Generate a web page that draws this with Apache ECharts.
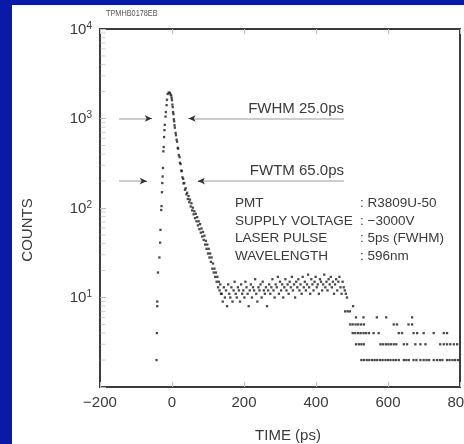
<!DOCTYPE html>
<html>
<head>
<meta charset="utf-8">
<script src="https://cdn.jsdelivr.net/npm/echarts@6.0.0/dist/echarts.min.js"></script>
<style>
  html, body { margin: 0; padding: 0; background: #fff; }
  #chart { width: 464px; height: 444px; }
</style>
</head>
<body>
<div id="chart"></div>
<script>
// time (ps), counts
const riseData = [
  [-43, 2], [-42, 4], [-41, 8], [-41, 9], [-39, 19], [-35, 28], [-33, 41], [-32, 57],
  [-30, 95], [-29, 105], [-28, 150], [-27, 190], [-26, 225], [-25, 280], [-24, 430],
  [-23, 480], [-22, 620], [-21, 740], [-20, 850], [-18, 1050], [-17, 1180], [-15, 1410],
  [-14, 1620], [-12, 1880], [-9, 1950], [-6, 1930], [-4, 1850]
];
const decayData = [
  [-2, 1800], [-1, 1690], [0, 1600], [1, 1430], [2, 1340], [3, 1180], [4, 1120], [5, 980],
  [6, 930], [7, 840], [8, 790], [10, 690], [11, 650], [13, 580], [14, 550], [16, 470],
  [17, 460], [19, 390], [21, 370], [22, 320], [24, 310], [26, 262], [27, 258], [29, 220],
  [31, 212], [32, 188], [34, 190], [36, 160], [38, 166], [40, 142], [42, 148], [44, 126],
  [46, 136], [48, 116], [50, 124], [52, 104], [54, 113], [56, 94], [58, 101], [60, 85],
  [62, 92], [64, 77], [66, 86], [68, 71], [70, 79], [72, 64], [74, 71], [76, 58],
  [78, 66], [80, 53], [82, 59], [84, 48], [86, 54], [88, 44], [90, 49], [92, 39],
  [94, 43], [96, 35], [98, 39], [100, 31], [102, 35], [104, 28], [106, 31], [108, 25],
  [110, 28], [112, 21], [114, 24], [116, 19], [118, 21], [120, 17], [122, 19], [124, 15],
  [126, 17], [128, 13], [130, 15], [132, 12], [134, 14], [136, 11]
];
const backgroundData = [
  [138, 11], [141, 9], [144, 13], [147, 10], [150, 12], [153, 8], [156, 14], [159, 11],
  [162, 10], [165, 13], [168, 9], [171, 12], [174, 15], [177, 11], [180, 10], [183, 13],
  [186, 12], [189, 9], [192, 14], [195, 11], [198, 12], [201, 10], [204, 15], [207, 13],
  [210, 11], [213, 8], [216, 12], [219, 14], [222, 10], [225, 13], [228, 12], [231, 16],
  [234, 11], [237, 9], [240, 13], [243, 12], [246, 14], [249, 10], [252, 15], [255, 12],
  [258, 11], [261, 13], [264, 8], [267, 12], [270, 14], [273, 11], [276, 13], [279, 16],
  [282, 12], [285, 10], [288, 14], [291, 13], [294, 17], [297, 11], [300, 15], [303, 12],
  [306, 14], [309, 10], [312, 13], [315, 16], [318, 12], [321, 14], [324, 11], [327, 15],
  [330, 13], [333, 17], [336, 12], [339, 14], [342, 10], [345, 15], [348, 13], [351, 16],
  [354, 12], [357, 14], [360, 11], [363, 17], [366, 13], [369, 15], [372, 12], [375, 14],
  [378, 18], [381, 13], [384, 11], [387, 16], [390, 14], [393, 12], [396, 15], [399, 17],
  [402, 13], [405, 14], [408, 11], [411, 16], [414, 15], [417, 12], [420, 14], [423, 18],
  [426, 13], [429, 15], [432, 12], [435, 16], [438, 14], [441, 17], [444, 13], [447, 15],
  [450, 11], [453, 14], [456, 16], [459, 12], [462, 15], [465, 17], [468, 13], [471, 11],
  [474, 15], [477, 13], [480, 12], [483, 11], [486, 10]
];
const tailData = [
  [481, 7], [488, 7], [494, 7], [503, 8],
  [511, 6], [532, 6], [569, 6], [595, 6], [667, 6],
  [495, 5], [502, 5], [510, 5], [517, 5], [525, 5], [533, 5], [616, 5], [625, 5], [657, 5], [667, 5],
  [502, 4], [509, 4], [517, 4], [524, 4], [532, 4], [539, 4], [547, 4], [560, 4], [574, 4],
  [630, 4], [639, 4], [671, 4], [681, 4], [699, 4], [727, 4], [755, 4], [764, 4],
  [511, 3], [519, 3], [526, 3], [533, 3], [579, 3], [586, 3], [594, 3], [601, 3], [608, 3],
  [616, 3], [623, 3], [644, 3], [653, 3], [676, 3], [690, 3], [704, 3], [745, 3], [755, 3],
  [764, 3], [773, 3], [783, 3], [792, 3],
  [526, 2], [533, 2], [541, 2], [548, 2], [556, 2], [563, 2], [570, 2], [578, 2], [585, 2],
  [593, 2], [600, 2], [607, 2], [615, 2], [622, 2], [630, 2], [644, 2], [651, 2], [658, 2],
  [671, 2], [679, 2], [690, 2], [699, 2], [707, 2], [714, 2], [727, 2], [736, 2], [744, 2],
  [751, 2], [764, 2], [771, 2], [779, 2], [786, 2], [794, 2]
];

const xTicks = [-200, 0, 200, 400, 600, 800];
const minorMultipliers = [2, 3, 4, 5, 6, 7, 8, 9];
const decades = [1, 10, 100, 1000];

// FWHM / FWTM markers
const fwhmLevel = 1000;
const fwtmLevel = 200;
const fwhmTips = [-56, 46];
const fwtmTips = [-70, 72];
const markerStart = -147;
const markerEnd = 478;

const infoLabels = ['PMT', 'SUPPLY VOLTAGE', 'LASER PULSE', 'WAVELENGTH'];
const infoValues = [': R3809U-50', ': \u22123000V', ': 5ps (FWHM)', ': 596nm'];

const FONT = '"Liberation Sans", Arial, Helvetica, sans-serif';
const TEXT_COLOR = '#3a3a3a';

const minorTickData = [];
decades.forEach(d => minorMultipliers.forEach(m => minorTickData.push([xTicks[0], m * d])));

function markerLines(level, tips) {
  return [
    [{ coord: [markerStart, level] }, { coord: [tips[0] - 6, level] }],
    [{ coord: [markerEnd, level] }, { coord: [tips[1] + 6, level] }],
    [{ coord: [tips[0] - 10, level], symbol: 'none', lineStyle: { color: '#333', width: 1 } },
     { coord: [tips[0], level], symbol: 'arrow', lineStyle: { color: '#333', width: 1 } }],
    [{ coord: [tips[1] + 10, level], symbol: 'none', lineStyle: { color: '#333', width: 1 } },
     { coord: [tips[1], level], symbol: 'arrow', lineStyle: { color: '#333', width: 1 } }]
  ];
}

const chart = echarts.init(document.getElementById('chart'));

const graphics = [
  { type: 'rect', shape: { x: 0, y: 0, width: 12, height: 444 }, style: { fill: '#0a1aa8' }, z: 100 },
  { type: 'rect', shape: { x: 0, y: 0, width: 464, height: 5 }, style: { fill: '#0a1aa8' }, z: 100 },
  { type: 'text', x: 106, y: 14, scaleX: 0.86, style: { text: 'TPMHB0178EB', font: '8.5px ' + FONT, fill: '#555', verticalAlign: 'middle' } },
  { type: 'text', x: 28, y: 230, rotation: Math.PI / 2, style: { text: 'COUNTS', font: '15px ' + FONT, fill: TEXT_COLOR, align: 'center', verticalAlign: 'middle' } },
  { type: 'text', x: 288, y: 436, style: { text: 'TIME (ps)', font: '15px ' + FONT, fill: TEXT_COLOR, align: 'center', verticalAlign: 'middle' } },
  { type: 'text', x: 344, y: 109, style: { text: 'FWHM 25.0ps', font: '15px ' + FONT, fill: TEXT_COLOR, align: 'right', verticalAlign: 'middle' } },
  { type: 'text', x: 344, y: 171, style: { text: 'FWTM 65.0ps', font: '15px ' + FONT, fill: TEXT_COLOR, align: 'right', verticalAlign: 'middle' } }
];
const infoY = [203, 221, 238.5, 256];
infoLabels.forEach((t, i) => {
  graphics.push({ type: 'text', x: 235, y: infoY[i], style: { text: t, font: '13.5px ' + FONT, fill: TEXT_COLOR, verticalAlign: 'middle' } });
  graphics.push({ type: 'text', x: 360, y: infoY[i], style: { text: infoValues[i], font: '13.5px ' + FONT, fill: TEXT_COLOR, verticalAlign: 'middle' } });
});

const option = {
  backgroundColor: '#fff',
  animation: false,
  textStyle: { fontFamily: FONT },
  grid: {
    left: 100, top: 29, right: 4, bottom: 57,
    outerBoundsMode: 'none',
    show: true, borderColor: '#3c3c3c', borderWidth: 2, backgroundColor: 'transparent'
  },
  xAxis: [
    {
      type: 'value', min: xTicks[0], max: xTicks[xTicks.length - 1], interval: 200,
      axisLine: { show: false },
      axisTick: { show: true, inside: true, length: 5, lineStyle: { color: '#bbb' } },
      axisLabel: {
        margin: 8, fontSize: 15, color: TEXT_COLOR,
        formatter: v => (v < 0 ? '\u2212' + Math.abs(v) : String(v))
      },
      splitLine: { show: false }
    },
    {
      type: 'value', position: 'top', min: xTicks[0], max: xTicks[xTicks.length - 1], interval: 200,
      axisLine: { show: false },
      axisTick: { show: true, inside: true, length: 5, lineStyle: { color: '#bbb' } },
      axisLabel: { show: false },
      splitLine: { show: false }
    }
  ],
  yAxis: {
    type: 'log', logBase: 10, min: 1, max: 10000,
    axisLine: { show: false, onZero: false },
    axisTick: { show: true, inside: true, length: 6, lineStyle: { color: '#bbb' } },
    axisLabel: {
      margin: 8,
      formatter: v => (v <= 1.5 ? '' : '{b|10}{s|' + Math.round(Math.log10(v)) + '}'),
      rich: {
        b: { fontSize: 15, color: TEXT_COLOR, lineHeight: 16, verticalAlign: 'bottom' },
        s: { fontSize: 10, color: TEXT_COLOR, lineHeight: 10, verticalAlign: 'top' }
      }
    },
    splitLine: { show: false }
  },
  series: [
    {
      name: 'minor ticks',
      type: 'scatter',
      silent: true,
      clip: false,
      symbol: 'rect',
      symbolSize: [5, 1],
      symbolOffset: [3, 0],
      itemStyle: { color: '#c4c4c4' },
      data: minorTickData
    },
    {
      name: 'counts',
      type: 'scatter',
      symbol: 'rect',
      symbolSize: 2.3,
      itemStyle: { color: '#1c1c1c' },
      data: riseData.concat(decayData, backgroundData, tailData),
      markLine: {
        silent: true,
        symbol: 'none',
        symbolSize: [5, 7],
        label: { show: false },
        lineStyle: { color: '#bdbdbd', width: 1.5, type: 'solid' },
        data: markerLines(fwhmLevel, fwhmTips).concat(markerLines(fwtmLevel, fwtmTips))
      }
    }
  ],
  graphic: graphics
};

chart.setOption(option);
</script>
</body>
</html>
